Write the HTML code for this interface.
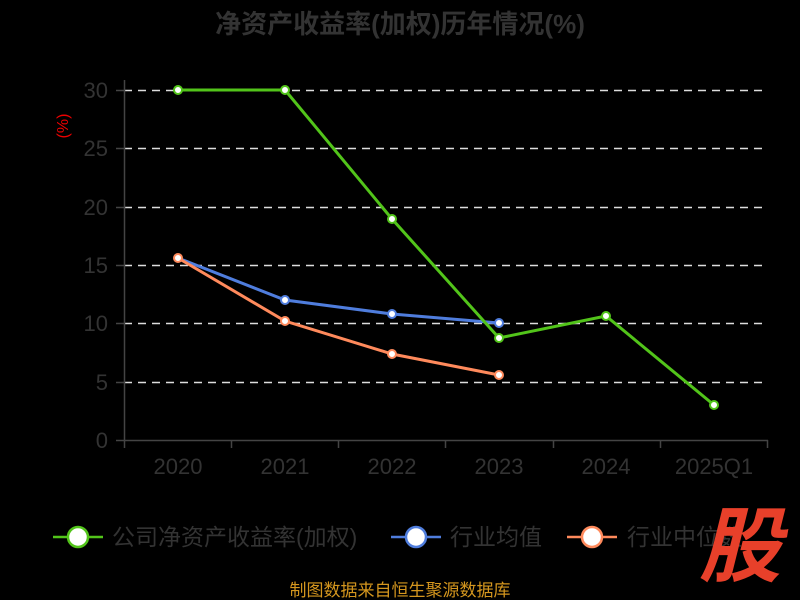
<!DOCTYPE html>
<html><head><meta charset="utf-8"><style>body{margin:0;background:#000}svg{display:block}</style></head>
<body>
<svg width="800" height="600" xmlns="http://www.w3.org/2000/svg" font-family="'Liberation Sans','Noto Sans CJK SC',sans-serif">
<rect width="800" height="600" fill="#000"/>
<text x="400" y="33" text-anchor="middle" font-size="26" font-weight="bold" fill="#333">净资产收益率(加权)历年情况(%)</text>
<text transform="translate(68,126) rotate(-90)" text-anchor="middle" font-size="16" fill="#e00">(%)</text>
<g stroke="#ddd" stroke-width="1.5" stroke-dasharray="8,6">
<line x1="124" x2="768" y1="90.5" y2="90.5"/><line x1="124" x2="768" y1="148.5" y2="148.5"/><line x1="124" x2="768" y1="207.5" y2="207.5"/><line x1="124" x2="768" y1="265.5" y2="265.5"/><line x1="124" x2="768" y1="323.5" y2="323.5"/><line x1="124" x2="768" y1="382.5" y2="382.5"/>
</g>
<g stroke="#444" stroke-width="1.5">
<line x1="124.5" y1="80" x2="124.5" y2="441"/><line x1="116" y1="440.5" x2="768" y2="440.5"/>
<line x1="116" x2="124" y1="90.5" y2="90.5"/><line x1="116" x2="124" y1="148.5" y2="148.5"/><line x1="116" x2="124" y1="207.5" y2="207.5"/><line x1="116" x2="124" y1="265.5" y2="265.5"/><line x1="116" x2="124" y1="323.5" y2="323.5"/><line x1="116" x2="124" y1="382.5" y2="382.5"/>
<line x1="124.5" x2="124.5" y1="440" y2="448"/><line x1="231.5" x2="231.5" y1="440" y2="448"/><line x1="338.5" x2="338.5" y1="440" y2="448"/><line x1="445.5" x2="445.5" y1="440" y2="448"/><line x1="553.5" x2="553.5" y1="440" y2="448"/><line x1="660.5" x2="660.5" y1="440" y2="448"/><line x1="767.5" x2="767.5" y1="440" y2="448"/>
</g>
<g font-size="22" fill="#333" text-anchor="end">
<text x="108" y="98">30</text><text x="108" y="156">25</text><text x="108" y="215">20</text><text x="108" y="273">15</text><text x="108" y="331">10</text><text x="108" y="390">5</text><text x="108" y="448">0</text>
</g>
<g font-size="22" fill="#333" text-anchor="middle">
<text x="178" y="474">2020</text><text x="285" y="474">2021</text><text x="392" y="474">2022</text><text x="499" y="474">2023</text><text x="606" y="474">2024</text><text x="714" y="474">2025Q1</text>
</g>
<polyline fill="none" stroke="#4f7ddd" stroke-width="3" points="178,258 285,300 392,314 499,323"/>
<polyline fill="none" stroke="#ff8a5c" stroke-width="3" points="178,258 285,321 392,354 499,375"/>
<polyline fill="none" stroke="#52c41a" stroke-width="3" points="178,90 285,90 392,219 499,338 606,316 714,405"/>
<g fill="#fff" stroke-width="2">
<g stroke="#4f7ddd"><circle cx="285" cy="300" r="4"/><circle cx="392" cy="314" r="4"/><circle cx="499" cy="323" r="4"/></g>
<g stroke="#ff8a5c"><circle cx="178" cy="258" r="4"/><circle cx="285" cy="321" r="4"/><circle cx="392" cy="354" r="4"/><circle cx="499" cy="375" r="4"/></g>
<g stroke="#52c41a"><circle cx="178" cy="90" r="4"/><circle cx="285" cy="90" r="4"/><circle cx="392" cy="219" r="4"/><circle cx="499" cy="338" r="4"/><circle cx="606" cy="316" r="4"/><circle cx="714" cy="405" r="4"/></g>
</g>
<g stroke-width="2.5" fill="#fff">
<line x1="53" x2="103" y1="537" y2="537" stroke="#52c41a"/><circle cx="78" cy="537" r="10" stroke="#52c41a"/>
<line x1="391" x2="441" y1="537" y2="537" stroke="#4f7ddd"/><circle cx="416" cy="537" r="10" stroke="#4f7ddd"/>
<line x1="567" x2="617" y1="537" y2="537" stroke="#ff8a5c"/><circle cx="592" cy="537" r="10" stroke="#ff8a5c"/>
</g>
<g font-size="23" fill="#333">
<text x="112" y="545">公司净资产收益率(加权)</text><text x="450" y="545">行业均值</text><text x="627" y="545">行业中位数</text>
</g>
<text x="740" y="575" text-anchor="middle" font-size="82" font-weight="bold" fill="#e8402a" font-style="italic">股</text>
<text x="400" y="596" text-anchor="middle" font-size="17" fill="#d4961e">制图数据来自恒生聚源数据库</text>
</svg>
</body></html>
